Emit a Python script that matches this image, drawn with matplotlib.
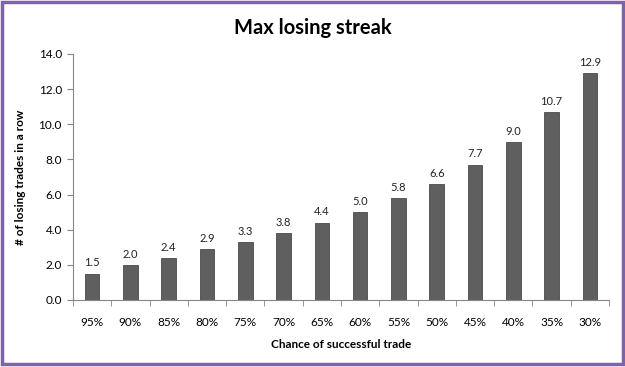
import matplotlib
matplotlib.use("Agg")
import matplotlib.pyplot as plt
from matplotlib.patches import Rectangle

categories = ["95%", "90%", "85%", "80%", "75%", "70%", "65%",
              "60%", "55%", "50%", "45%", "40%", "35%", "30%"]
streak = [1.5, 2.0, 2.4, 2.9, 3.3, 3.8, 4.4, 5.0, 5.8, 6.6, 7.7, 9.0, 10.7, 12.9]

plt.rcParams['font.family'] = ['Lato', 'DejaVu Sans']

fig = plt.figure(figsize=(6.25, 3.67), dpi=100)
ax = fig.add_axes([73 / 625, 1 - 300 / 367, 536 / 625, 246 / 367])

x = range(len(categories))
bars = ax.bar(x, streak, width=0.38, color="#5f5f5f", edgecolor="#4a4a4a", linewidth=0.6)
for xi, v in zip(x, streak):
    ax.text(xi, v + 0.3, f"{v:.1f}", ha="center", va="bottom", fontsize=8, color="#222222")

ax.set_xlim(-0.5, len(categories) - 0.5)
ax.set_ylim(0, 14)
ax.set_yticks([0, 2, 4, 6, 8, 10, 12, 14])
ax.set_yticklabels([f"{t:.1f}" for t in ax.get_yticks()], fontsize=8.5)
ax.set_xticks(list(x))
ax.set_xticklabels(categories, fontsize=8.5)
ax.set_xticks([i - 0.5 for i in range(len(categories) + 1)], minor=True)
ax.tick_params(axis="x", which="major", length=0, pad=12)
ax.tick_params(axis="x", which="minor", length=4, color="#868686", direction="out")
ax.tick_params(axis="y", length=4, color="#868686", direction="out", pad=4)

for side in ["top", "right"]:
    ax.spines[side].set_visible(False)
for side in ["left", "bottom"]:
    ax.spines[side].set_color("#868686")
    ax.spines[side].set_linewidth(0.8)

ax.set_xlabel("Chance of successful trade", fontsize=8.5, fontweight="bold", labelpad=8)
ax.set_ylabel("# of losing trades in a row", fontsize=8.5, fontweight="bold", labelpad=9)
fig.text(0.5, 1 - 28 / 367, "Max losing streak", ha="center", va="center",
         fontsize=14.5, fontweight="bold")

fig.patches.append(Rectangle((2 / 625, 3 / 367), 621 / 625, 362 / 367, transform=fig.transFigure,
                             fill=False, edgecolor="#7f63a6", linewidth=2.5))

fig.savefig("out.png", dpi=100)
